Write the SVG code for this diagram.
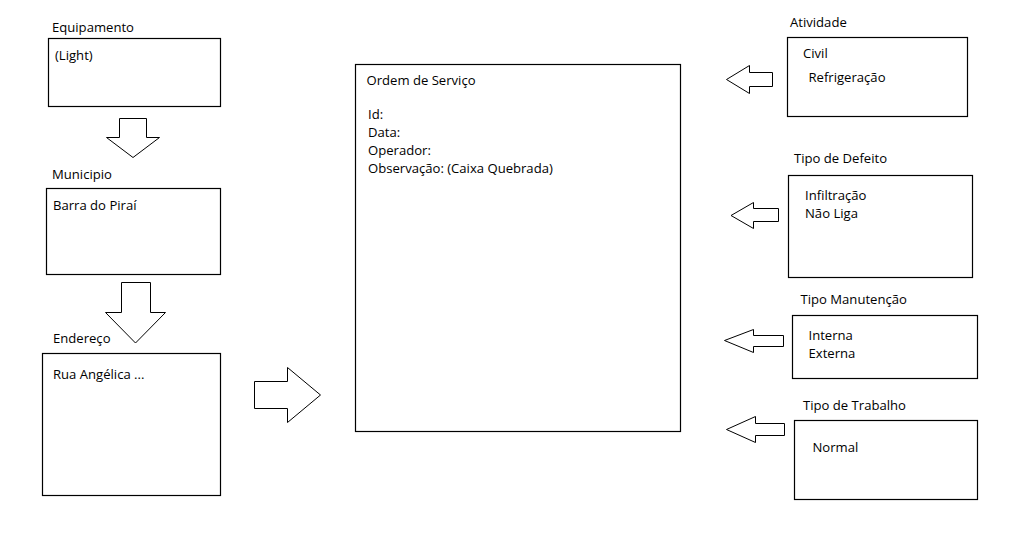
<svg xmlns="http://www.w3.org/2000/svg" width="1019" height="553" viewBox="0 0 1019 553">
<style>
.box{fill:#fff;stroke:#000;stroke-width:1.2}
.arr{fill:#fff;stroke:#000;stroke-width:1}
text{font-family:"Open Sans","Noto Sans",sans-serif;font-size:13.1px;fill:#000}
</style>
<rect width="1019" height="553" fill="#fff"/>
<g id="equipamento">
<text x="52" y="32">Equipamento</text>
<rect class="box" x="48.5" y="38.5" width="172" height="68"/>
<text x="55" y="60">(Light)</text>
</g>
<g id="municipio">
<text x="52" y="179">Municipio</text>
<rect class="box" x="46.5" y="188.5" width="174" height="86"/>
<text x="53" y="210">Barra do Piraí</text>
</g>
<g id="endereco">
<text x="53" y="343">Endereço</text>
<rect class="box" x="42.5" y="353.5" width="178" height="142"/>
<text x="53" y="379">Rua Angélica ...</text>
</g>
<g id="ordem">
<rect class="box" x="355.5" y="64.5" width="325" height="367"/>
<text x="366.5" y="85">Ordem de Serviço</text>
<text x="368" y="119">Id:</text>
<text x="368" y="137">Data:</text>
<text x="368" y="155">Operador:</text>
<text x="368" y="173">Observação: (Caixa Quebrada)</text>
</g>
<g id="atividade">
<text x="790" y="27">Atividade</text>
<rect class="box" x="787.5" y="37.5" width="180" height="79"/>
<text x="803" y="58">Civil</text>
<text x="808.5" y="82">Refrigeração</text>
</g>
<g id="defeito">
<text x="794" y="163">Tipo de Defeito</text>
<rect class="box" x="788.5" y="175.5" width="184" height="102"/>
<text x="805" y="199.5">Infiltração</text>
<text x="805" y="217.5">Não Liga</text>
</g>
<g id="manutencao">
<text x="800.5" y="304">Tipo Manutenção</text>
<rect class="box" x="792.5" y="315.5" width="185" height="63"/>
<text x="808.5" y="340">Interna</text>
<text x="808.5" y="358">Externa</text>
</g>
<g id="trabalho">
<text x="803" y="410">Tipo de Trabalho</text>
<rect class="box" x="794.5" y="420.5" width="183" height="79"/>
<text x="812.5" y="452">Normal</text>
</g>
<g id="connectors">
<polygon class="arr" points="119.5,118.5 146.5,118.5 146.5,137.5 159.5,137.5 133,157.5 106.5,137.5 119.5,137.5"/>
<polygon class="arr" points="121.5,282.5 150.5,282.5 150.5,312.5 165.5,312.5 135.5,343 105.5,312.5 121.5,312.5"/>
<polygon class="arr" points="254.5,381.5 287.5,381.5 287.5,367.5 320.5,395 287.5,422.5 287.5,408.5 254.5,408.5"/>
<polygon class="arr" points="772.5,72.5 749.5,72.5 749.5,65.5 726.5,79.5 749.5,93.5 749.5,86.5 772.5,86.5"/>
<polygon class="arr" points="778.5,208.5 753.5,208.5 753.5,202.5 731,215.5 753.5,228.5 753.5,221.5 778.5,221.5"/>
<polygon class="arr" points="783.5,335.5 753.5,335.5 753.5,329.5 724.5,340.5 753.5,352.5 753.5,346.5 783.5,346.5"/>
<polygon class="arr" points="784.5,423.5 755.5,423.5 755.5,416.5 726.5,429.5 755.5,442.5 755.5,435.5 784.5,435.5"/>
</g>
</svg>
